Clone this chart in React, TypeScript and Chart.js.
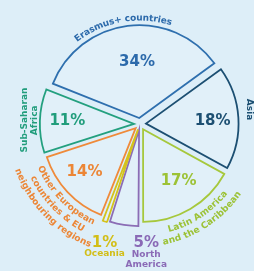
import React, { useEffect, useRef } from "react";
import { Chart, registerables } from "chart.js";

Chart.register(...registerables);

// ---- data ----
const categories = [
  "Erasmus+ countries",
  "Asia",
  "Latin America and the Caribbean",
  "North America",
  "Oceania",
  "Other European countries & EU neighbouring regions",
  "Sub-Saharan Africa",
];
const shares = [34, 18, 17, 5, 1, 14, 11];
const pctLabels = ["34%", "18%", "17%", "5%", "1%", "14%", "11%"];
const nameLines = [
  ["Erasmus+ countries"],
  ["Asia"],
  ["Latin America", "and the Caribbean"],
  ["North", "America"],
  ["Oceania"],
  ["Other European", "countries & EU", "neighbouring regions"],
  ["Sub-Saharan", "Africa"],
];

// ---- styles ----
const lineColors = ["#2e6fae", "#1c4f72", "#a6c83c", "#8b6db5", "#d4c21c", "#ef8a3a", "#23a07f"];
const textColors = ["#2c6aab", "#1c4f72", "#9cc236", "#8a6ab6", "#d2be18", "#ec8636", "#219d7c"];
const PAGE_BG = "#ddeef8";
const SLICE_FILL = "#e1f0f9";
const FONT = "DejaVu Sans";

// label placement: pct = [angle delta from slice mid (deg), radius factor]
const labelLayout: any[] = [
  { pct: [4.4, 0.67], name: { mode: "arcOut", d: -2.8, r: [1.15] } },
  { pct: [1.6, 0.79], name: { mode: "rot", rot: 90, d: -3.9, r: [1.2] } },
  { pct: [-3.4, 0.75], name: { mode: "arcIn", d: -2.6, r: [1.19, 1.31] } },
  { pct: [-12, 1.3], name: { mode: "flat", dy: [11, 21] } },
  { pct: [-3.2, 1.35], name: { mode: "flat", dy: [11] } },
  { pct: [2.2, 0.8], name: { mode: "arcIn", d: -0.8, r: [1.18, 1.3, 1.42] } },
  { pct: [0.2, 0.79], name: { mode: "rot", rot: -90, d: 0.2, r: [1.25, 1.15] } },
];

const DEG = Math.PI / 180;

function drawArcText(ctx: CanvasRenderingContext2D, text: string, cx: number, cy: number, r: number, center: number, outward: boolean) {
  const widths = Array.from(text).map((ch) => ctx.measureText(ch).width);
  const total = widths.reduce((a, b) => a + b, 0);
  const span = total / r;
  let acc = 0;
  Array.from(text).forEach((ch, k) => {
    const w = widths[k];
    let a: number, rot: number;
    if (outward) {
      a = center - span / 2 + (acc + w / 2) / r;
      rot = a + Math.PI / 2;
    } else {
      a = center + span / 2 - (acc + w / 2) / r;
      rot = a - Math.PI / 2;
    }
    acc += w;
    ctx.save();
    ctx.translate(cx + r * Math.cos(a), cy + r * Math.sin(a));
    ctx.rotate(rot);
    ctx.fillText(ch, 0, 0);
    ctx.restore();
  });
}

const labelsPlugin = {
  id: "sliceLabels",
  afterDatasetsDraw(chart: any) {
    const ctx: CanvasRenderingContext2D = chart.ctx;
    const meta = chart.getDatasetMeta(0);
    ctx.save();
    ctx.textAlign = "center";
    ctx.textBaseline = "middle";
    meta.data.forEach((arc: any, i: number) => {
      const { x, y, startAngle, endAngle, outerRadius } = arc.getProps(
        ["x", "y", "startAngle", "endAngle", "outerRadius"],
        true
      );
      const mid = (startAngle + endAngle) / 2;
      const L = labelLayout[i];
      ctx.fillStyle = textColors[i];
      // percentage
      ctx.font = `bold 15px "${FONT}"`;
      const pa = mid + L.pct[0] * DEG;
      const pr = L.pct[1] * outerRadius;
      const px = x + pr * Math.cos(pa);
      const py = y + pr * Math.sin(pa);
      ctx.fillText(pctLabels[i], px, py);
      // name
      ctx.font = `bold 9px "${FONT}"`;
      const n = L.name;
      const lines = nameLines[i];
      lines.forEach((line: string, k: number) => {
        if (n.mode === "flat") {
          ctx.fillText(line, px, py + n.dy[k]);
        } else if (n.mode === "rot") {
          const a = mid + n.d * DEG;
          const rr = n.r[k] * outerRadius;
          ctx.save();
          ctx.translate(x + rr * Math.cos(a), y + rr * Math.sin(a));
          ctx.rotate(n.rot * DEG);
          ctx.fillText(line, 0, 0);
          ctx.restore();
        } else {
          drawArcText(ctx, line, x, y, n.r[k] * outerRadius, mid + n.d * DEG, n.mode === "arcOut");
        }
      });
    });
    ctx.restore();
  },
};

export default function App() {
  const ref = useRef<HTMLCanvasElement | null>(null);
  useEffect(() => {
    if (!ref.current) return;
    const chart = new Chart(ref.current, {
      type: "pie",
      data: {
        labels: categories,
        datasets: [
          {
            data: shares,
            backgroundColor: SLICE_FILL,
            borderColor: lineColors,
            borderWidth: 1.8,
            borderJoinStyle: "miter",
            offset: 24,
          } as any,
        ],
      },
      options: {
        responsive: false,
        animation: false,
        events: [],
        rotation: 291.6,
        radius: 92,
        layout: { padding: { left: 40, right: 14, top: 24, bottom: 47 } },
        plugins: { legend: { display: false }, tooltip: { enabled: false } },
      } as any,
      plugins: [labelsPlugin],
    });
    return () => chart.destroy();
  }, []);
  return (
    <div style={{ position: "fixed", left: 0, top: 0, width: 254, height: 271, background: PAGE_BG }}>
      <canvas ref={ref} width={254} height={271} style={{ display: "block" }} />
    </div>
  );
}
